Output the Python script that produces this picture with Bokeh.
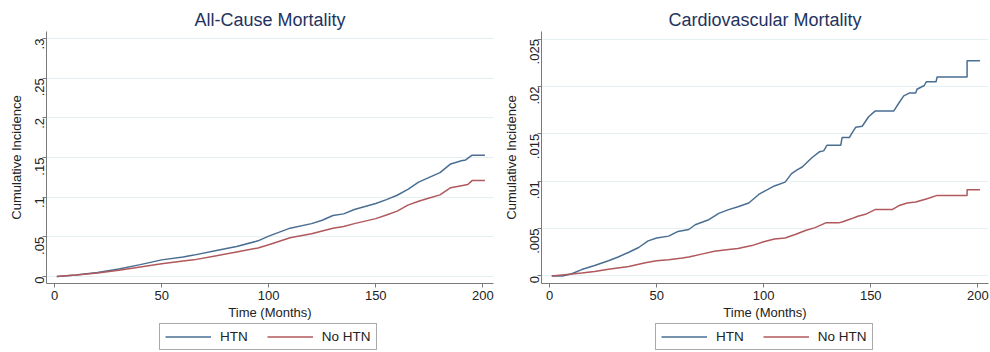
import math
from bokeh.plotting import figure
from bokeh.models import (Range1d, FixedTicker, CustomJSTickFormatter, Legend, LegendItem)
from bokeh.layouts import row, column
from bokeh.embed import file_html
from bokeh.resources import INLINE

# ---- data ----
x_ticks = [0, 50, 100, 150, 200]
y_ticks_all = [0, 0.05, 0.1, 0.15, 0.2, 0.25, 0.3]
y_ticks_cv = [0, 0.005, 0.01, 0.015, 0.02, 0.025]
series_labels = ["HTN", "No HTN"]
titles = ["All-Cause Mortality", "Cardiovascular Mortality"]

all_htn_t = [1, 10, 20, 30, 40, 50, 60, 65, 75, 85, 95, 100, 110, 120, 125, 130, 135, 140,
             150, 155, 160, 165, 170, 175, 180, 185, 190, 192, 195, 201]
all_htn_v = [0, .002, .005, .0095, .015, .021, .0245, .027, .0325, .0378, .045, .051, .061,
             .0667, .071, .077, .079, .0846, .092, .097, .1025, .11, .119, .125, .131, .142,
             .146, .147, .153, .153]

all_no_t = [1, 10, 20, 30, 40, 50, 60, 65, 75, 85, 95, 100, 110, 120, 125, 130, 135, 140,
            150, 155, 160, 165, 170, 175, 180, 185, 190, 193, 195, 201]
all_no_v = [0, .0018, .0045, .008, .012, .016, .0195, .021, .026, .031, .036, .040, .049,
            .054, .0575, .061, .063, .0667, .073, .0775, .0825, .09, .095, .099, .103, .112,
            .1146, .116, .121, .121]

cv_htn_t = [1, 6, 10, 15, 21, 27.5, 32, 37, 41.6, 46, 50, 55.6, 60, 65, 68, 74, 79, 83.6, 88,
            93, 97.7, 100, 105, 110, 113, 115.6, 118, 122.6, 126, 128, 129.6, 136, 136.6, 140,
            141, 143, 146, 149, 152, 160.7, 163, 165.4, 168, 171, 171.6, 175, 176, 180.5, 181,
            195, 195, 201]
cv_htn_v = [0, 0, .0002, .00067, .0011, .0016, .002, .0025, .003, .0037, .004, .0042, .0047,
            .0049, .0054, .0059, .0066, .007, .0073, .0077, .0086, .0089, .0095, .0099, .0108,
            .0112, .0115, .0125, .0131, .0132, .0138, .0138, .0146, .0146, .015, .0157, .0158,
            .0168, .0174, .0174, .0182, .019, .0193, .0193, .0197, .0201, .0205, .0205, .021,
            .021, .0227, .0227]

cv_no_t = [1, 15, 21, 27.5, 37, 44.7, 50, 55.6, 62, 65, 71, 77, 83.6, 88, 94.5, 100, 105, 110,
           115, 119.5, 124, 129, 135, 136.6, 140.5, 144, 147.5, 152, 160, 163, 167, 171, 175.5,
           177, 181, 195, 195, 201]
cv_no_v = [0, .0003, .00046, .0007, .001, .0014, .0016, .0017, .0019, .002, .0023, .0026, .0028,
           .0029, .0032, .0036, .0039, .004, .0044, .0048, .0051, .0056, .0056, .0057, .006,
           .0063, .0065, .007, .007, .0074, .0077, .0078, .0081, .0082, .0085, .0085, .0091,
           .0091]

FONT = "Liberation Sans"
C_HTN = "#4a6e92"
C_NO = "#b0585c"
LW = 1.5

fmt = CustomJSTickFormatter(code="""
if (Math.abs(tick) < 1e-12) return '0';
let s = tick.toFixed(3).replace(/0+$/, '');
return s.replace(/^0/, '');
""")


def make_panel(title, yticks, yrange, t1, v1, t2, v2, width, bl, br):
    p = figure(width=width, height=322, output_backend="svg", toolbar_location=None,
               x_range=Range1d(-3.8, 205), y_range=Range1d(start=yrange[0], end=yrange[1]),
               min_border_left=bl, min_border_right=br, min_border_top=31,
               min_border_bottom=0, title=title)
    p.title.text_font = FONT
    p.title.text_font_size = "18px"
    p.title.text_font_style = "normal"
    p.title.text_color = "#1f3360"
    p.title.align = "center"
    p.title.standoff = 4
    p.outline_line_color = None

    p.xgrid.visible = False
    p.ygrid.grid_line_color = "#e6eff1"
    p.ygrid.grid_line_width = 1

    for ax in (p.xaxis, p.yaxis):
        ax.axis_line_color = "#7a7a7a"
        ax.major_tick_line_color = "#7a7a7a"
        ax.major_tick_out = 4
        ax.major_tick_in = 0
        ax.minor_tick_line_color = None
        ax.major_label_text_font = FONT
        ax.major_label_text_font_size = "13px"
        ax.major_label_text_color = "#222222"
        ax.axis_label_text_font = FONT
        ax.axis_label_text_font_size = "13px"
        ax.axis_label_text_font_style = "normal"
        ax.axis_label_text_color = "#222222"

    p.xaxis.ticker = FixedTicker(ticks=x_ticks)
    p.xaxis.axis_label = "Time (Months)"
    p.xaxis.axis_label_standoff = 2
    p.xaxis.major_label_standoff = 3

    p.yaxis.ticker = FixedTicker(ticks=yticks)
    p.yaxis.formatter = fmt
    p.yaxis.major_label_orientation = math.pi / 2
    p.yaxis.axis_label = "Cumulative Incidence"
    p.yaxis.axis_label_standoff = 4
    p.yaxis.major_label_standoff = 3

    p.line(t1, v1, line_color=C_HTN, line_width=LW)
    p.line(t2, v2, line_color=C_NO, line_width=LW)
    return p


def make_legend_fig(width, x_left, t1, v1, t2, v2):
    # the series are drawn outside the visible range; only the legend shows
    lf = figure(width=width, height=30, output_backend="svg", toolbar_location=None,
                x_range=Range1d(-100, -90), y_range=Range1d(0, 1),
                x_axis_location=None, y_axis_location=None,
                min_border_left=0, min_border_right=0, min_border_top=0, min_border_bottom=0)
    lf.grid.visible = False
    lf.outline_line_color = None
    e1 = lf.line(t1, v1, line_color=C_HTN, line_width=LW)
    e2 = lf.line(t2, v2, line_color=C_NO, line_width=LW)
    leg = Legend(items=[LegendItem(label=series_labels[0], renderers=[e1]),
                        LegendItem(label=series_labels[1], renderers=[e2])],
                 orientation="horizontal", location=(x_left, 2))
    leg.label_text_font = FONT
    leg.label_text_font_size = "13.5px"
    leg.label_text_color = "#222222"
    leg.glyph_width = 46
    leg.glyph_height = 15
    leg.label_height = 15
    leg.label_standoff = 9
    leg.spacing = 19
    leg.padding = 5
    leg.border_line_color = "#555555"
    leg.border_line_width = 1
    leg.background_fill_color = "white"
    lf.add_layout(leg, "center")
    return lf


p1 = make_panel(titles[0], y_ticks_all, (-0.0088, 0.309), all_htn_t, all_htn_v,
                all_no_t, all_no_v, 495, 46, 2)
p2 = make_panel(titles[1], y_ticks_cv, (-0.0008, 0.0258), cv_htn_t, cv_htn_v,
                cv_no_t, cv_no_v, 495, 46, 2)
l1 = make_legend_fig(495, 113, all_htn_t, all_htn_v, all_no_t, all_no_v)
l2 = make_legend_fig(495, 114, cv_htn_t, cv_htn_v, cv_no_t, cv_no_v)

layout = row(column(p1, l1), column(p2, l2))
open("out.html", "w").write(file_html(layout, INLINE))
